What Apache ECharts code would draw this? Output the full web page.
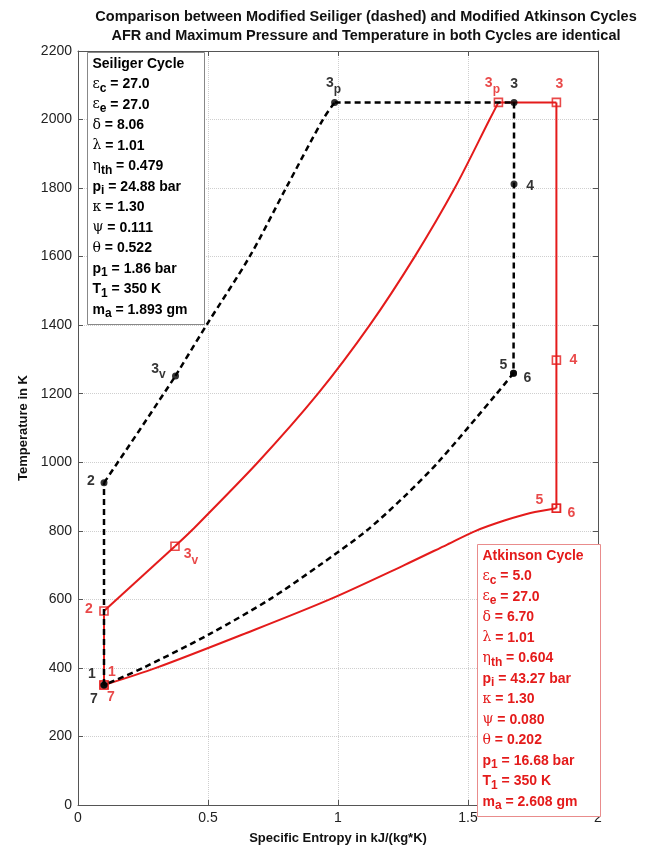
<!DOCTYPE html>
<html>
<head>
<meta charset="utf-8">
<script src="https://cdn.jsdelivr.net/npm/echarts@6/dist/echarts.min.js"></script>
<style>
html, body { margin: 0; padding: 0; background: #fff; }
#chart { width: 651px; height: 850px; }
</style>
</head>
<body>
<div id="chart"></div>
<script>
// ---- State points of both cycles (s in kJ/(kg*K), T in K) ----
const seiligerStates = ['1', '2', '3v', '3p', '3', '4', '5', '6', '7'];
const seiligerS = [0.10, 0.10, 0.375, 0.987, 1.677, 1.677, 1.675, 1.675, 0.10];
const seiligerT = [350, 940, 1252, 2050, 2050, 1812, 1260, 1260, 350];

const atkinsonStates = ['1', '2', '3v', '3p', '3', '4', '5', '6', '7'];
const atkinsonS = [0.10, 0.10, 0.373, 1.617, 1.840, 1.840, 1.840, 1.840, 0.10];
const atkinsonT = [350, 566, 755, 2050, 2050, 1298, 866, 866, 350];

// ---- Process paths traced through the cycle ----
const seiligerPathS = [0.10, 0.10, 0.237, 0.375, 0.494, 0.660, 0.800, 0.942, 0.987, 1.677, 1.677, 1.675, 1.610, 1.385, 1.255, 1.109, 0.930, 0.737, 0.509, 0.250, 0.10];
const seiligerPathT = [350, 940, 1094, 1252, 1400, 1600, 1800, 2000, 2050, 2050, 1812, 1260, 1200, 1000, 900, 800, 700, 600, 500, 400, 350];
// index ranges of the individual processes along the path: [from, to, curved]
const seiligerProcesses = [[0, 1, false], [1, 3, false], [3, 8, true], [8, 9, false], [9, 11, false], [11, 20, true]];

const atkinsonPathS = [0.10, 0.10, 0.373, 0.436, 0.692, 0.923, 1.122, 1.295, 1.449, 1.583, 1.617, 1.840, 1.840, 1.840, 1.740, 1.640, 1.530, 1.420, 1.255, 0.968, 0.648, 0.300, 0.10];
const atkinsonPathT = [350, 566, 755, 800, 1000, 1200, 1400, 1600, 1800, 2000, 2050, 2050, 1298, 866, 852, 830, 800, 760, 700, 600, 502, 400, 350];
const atkinsonProcesses = [[0, 1, false], [1, 2, false], [2, 10, true], [10, 11, false], [11, 13, false], [13, 22, true]];

// ---- Parameter tables shown in the two boxes ----
const paramSymbols = ['ε', 'ε', 'δ', 'λ', 'η', 'p', 'κ', 'ψ', 'θ', 'p', 'T', 'm'];
const paramSubs    = ['c', 'e', '',  '',  'th', 'i', '', '',  '',  '1', '1', 'a'];
const seiligerParams = ['27.0', '27.0', '8.06', '1.01', '0.479', '24.88 bar', '1.30', '0.111', '0.522', '1.86 bar', '350 K', '1.893 gm'];
const atkinsonParams = ['5.0', '27.0', '6.70', '1.01', '0.604', '43.27 bar', '1.30', '0.080', '0.202', '16.68 bar', '350 K', '2.608 gm'];

// ---- Axis ranges ----
const sRange = [0, 2, 0.5];
const tRange = [0, 2200, 200];

// ---- Styling ----
const BLACK = '#000000';
const RED = '#e41b1b';
const FONT = 'Liberation Sans, Arial, sans-serif';
const greekSet = 'εδληκψθ';

const seiligerLabelOffset = {
  '1': [-12, -11], '7': [-10, 14], '2': [-13, -2], '3v': [-17, -7], '3p': [-1, -19],
  '3': [0, -18], '4': [16, 2], '5': [-10, -8], '6': [14, 5]
};
const atkinsonLabelOffset = {
  '1': [8, -13], '7': [7, 12], '2': [-15, -2], '3v': [16, 8], '3p': [-6, -19],
  '3': [3, -18], '4': [17, 0], '5': [-17, -8], '6': [15, 5]
};

function zip(a, b) { return a.map((v, i) => [v, b[i]]); }

function stateLabel(name) {
  return name.length > 1 ? '{n|' + name[0] + '}{s|' + name.slice(1) + '}' : '{n|' + name + '}';
}

function labelRich(color) {
  return {
    n: { fontSize: 14, fontWeight: 'bold', fontFamily: FONT, color: color, lineHeight: 24, verticalAlign: 'middle', textBorderWidth: 0 },
    s: { fontSize: 12, fontWeight: 'bold', fontFamily: FONT, color: color, lineHeight: 12, verticalAlign: 'bottom', textBorderWidth: 0 }
  };
}

function stateData(states, S, T, offsets) {
  return states.map((name, i) => ({
    value: [S[i], T[i]],
    name: name,
    label: { offset: offsets[name] }
  }));
}

function processSeries(name, S, T, processes, lineStyle, z) {
  const pts = zip(S, T);
  return processes.map(([a, b, curved], k) => ({
    name: name + ' ' + k,
    type: 'line',
    data: pts.slice(a, b + 1),
    showSymbol: false,
    smooth: curved ? 0.3 : false,
    lineStyle: lineStyle,
    silent: true,
    z: z
  }));
}

function boxText(title, values) {
  const lines = ['{h|' + title + '}'];
  paramSymbols.forEach((sym, i) => {
    const symTok = greekSet.indexOf(sym) >= 0 ? '{g|' + sym + '}' : '{b|' + sym + '}';
    const subTok = paramSubs[i] ? '{s|' + paramSubs[i] + '}' : '';
    lines.push(symTok + subTok + '{b| = ' + values[i] + '}');
  });
  return lines.join('\n');
}

function boxRich(color) {
  const lh = 20.5;
  return {
    h: { fontSize: 14, fontWeight: 'bold', fontFamily: FONT, fill: color, lineHeight: lh, verticalAlign: 'middle' },
    b: { fontSize: 14, fontWeight: 'bold', fontFamily: FONT, fill: color, lineHeight: lh, verticalAlign: 'middle' },
    g: { fontSize: 14, fontWeight: 'normal', fontFamily: 'DejaVu Serif, serif', fill: color, lineHeight: lh, verticalAlign: 'middle' },
    s: { fontSize: 12, fontWeight: 'bold', fontFamily: FONT, fill: color, lineHeight: 10, verticalAlign: 'bottom' }
  };
}

function infoBox(left, top, width, height, border, color, title, values) {
  return {
    type: 'group', left: left, top: top, z: 100,
    children: [
      { type: 'rect', z: 100, shape: { x: 0, y: 0, width: width, height: height }, style: { fill: '#fff', stroke: border, lineWidth: 1 } },
      { type: 'text', z: 101, x: 5, y: 1, style: { text: boxText(title, values), rich: boxRich(color), fill: color, font: 'bold 14px ' + FONT, verticalAlign: 'top' } }
    ]
  };
}

const chart = echarts.init(document.getElementById('chart'), null, { renderer: 'canvas' });

const axisCommon = {
  type: 'value',
  axisLine: { show: true, onZero: false, lineStyle: { color: '#555', width: 1 } },
  axisTick: { show: true, inside: true, length: 5, lineStyle: { color: '#555' } }
};

const plainNumber = (v) => String(v);

const option = {
  backgroundColor: '#ffffff',
  animation: false,
  grid: { left: 78, right: 53, top: 51, bottom: 45, containLabel: false },
  xAxis: [
    Object.assign({}, axisCommon, {
      min: sRange[0], max: sRange[1], interval: sRange[2],
      position: 'bottom',
      name: 'Specific Entropy in kJ/(kg*K)',
      nameLocation: 'middle', nameGap: 27,
      nameTextStyle: { fontFamily: FONT, fontSize: 13, fontWeight: 'bold', color: '#111' },
      axisLabel: { fontFamily: FONT, fontSize: 14, color: '#222', margin: 6, formatter: plainNumber },
      splitLine: { show: true, lineStyle: { color: '#cfcfcf', type: 'dotted', width: 1 } }
    }),
    Object.assign({}, axisCommon, {
      min: sRange[0], max: sRange[1], interval: sRange[2],
      position: 'top',
      axisLabel: { show: false },
      splitLine: { show: false }
    })
  ],
  yAxis: [
    Object.assign({}, axisCommon, {
      min: tRange[0], max: tRange[1], interval: tRange[2],
      position: 'left',
      name: 'Temperature in K',
      nameLocation: 'middle', nameGap: 48,
      nameTextStyle: { fontFamily: FONT, fontSize: 13, fontWeight: 'bold', color: '#111' },
      axisLabel: { fontFamily: FONT, fontSize: 14, color: '#222', margin: 6, formatter: plainNumber },
      splitLine: { show: true, lineStyle: { color: '#cfcfcf', type: 'dotted', width: 1 } }
    }),
    Object.assign({}, axisCommon, {
      min: tRange[0], max: tRange[1], interval: tRange[2],
      position: 'right',
      axisLabel: { show: false },
      splitLine: { show: false }
    })
  ],
  series: [].concat(
    processSeries('Atkinson', atkinsonPathS, atkinsonPathT, atkinsonProcesses, { color: RED, width: 2 }, 2),
    [{
      name: 'Atkinson states',
      type: 'scatter',
      data: stateData(atkinsonStates, atkinsonS, atkinsonT, atkinsonLabelOffset),
      symbol: 'rect',
      symbolSize: 8,
      itemStyle: { color: 'rgba(255,255,255,0)', borderColor: RED, borderWidth: 1.6 },
      label: {
        show: true, position: 'inside', color: RED, textBorderWidth: 0,
        formatter: (p) => stateLabel(p.name),
        rich: labelRich(RED)
      },
      z: 3
    }],
    processSeries('Seiliger', seiligerPathS, seiligerPathT, seiligerProcesses, { color: BLACK, width: 2.5, type: [6, 4] }, 4),
    [{
      name: 'Seiliger states',
      type: 'scatter',
      data: stateData(seiligerStates, seiligerS, seiligerT, seiligerLabelOffset),
      symbol: 'circle',
      symbolSize: 7,
      itemStyle: { color: BLACK },
      label: {
        show: true, position: 'inside', color: BLACK, textBorderWidth: 0,
        formatter: (p) => stateLabel(p.name),
        rich: labelRich(BLACK)
      },
      z: 5
    }]
  ),
  graphic: [
    {
      type: 'text', x: 366, y: 7, z: 100,
      style: {
        text: 'Comparison between Modified Seiliger (dashed) and Modified Atkinson Cycles\nAFR and Maximum Pressure and Temperature in both Cycles are identical',
        font: 'bold 14.5px ' + FONT, fill: '#111', align: 'center', verticalAlign: 'top', lineHeight: 19
      }
    },
    infoBox(87, 52, 117, 272, '#888', BLACK, 'Seiliger Cycle', seiligerParams),
    infoBox(477, 544, 123, 272, '#e98c8c', RED, 'Atkinson Cycle', atkinsonParams)
  ]
};

chart.setOption(option);
</script>
</body>
</html>
